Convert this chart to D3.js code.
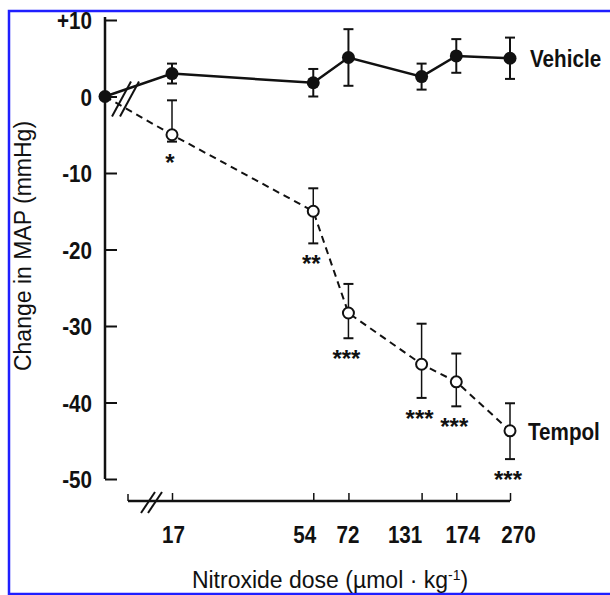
<!DOCTYPE html>
<html>
<head>
<meta charset="utf-8">
<script src="https://cdn.jsdelivr.net/npm/d3@7"></script>
<style>
  body { margin: 0; background: #fff; }
  svg { display: block; }
  text { font-family: "Liberation Sans", Arial, sans-serif; fill: #111; }
  .bold { font-weight: bold; font-size: 24px; }
  .tick text { font-weight: bold; font-size: 24px; }
</style>
</head>
<body>
<div id="chart"></div>
<script>
// doses (umol/kg) on a log axis, plus a baseline point at dose 0
var doses = [17, 54, 72, 131, 174, 270];
var yTicks = [10, 0, -10, -20, -30, -40, -50];
var seriesNames = ['Vehicle', 'Tempol'];

var baseline = 0;
var vehicleMean = [3.0, 1.8, 5.1, 2.6, 5.3, 5.0];
var vehicleErr = [1.3, 1.8, 3.7, 1.7, 2.2, 2.7];

var tempolMean = [-5.0, -15.0, -28.3, -35.0, -37.3, -43.7];
var tempolErrUp = [4.5, 3.0, 3.8, 5.3, 3.7, 3.6];
var tempolErrDown = [0.9, 4.2, 3.3, 4.4, 3.2, 3.7];
var tempolStars = ['*', '**', '***', '***', '***', '***'];

var width = 610, height = 595;
var axisX = 105;
var squeeze = 'scale(0.86,1)';   // the original lettering is condensed
// labels under crowded ticks are nudged apart, as in the original
var labelShift = [1, -9, -1, -17, 6, 8];

var svg = d3.select('#chart').append('svg')
    .attr('width', width)
    .attr('height', height);

// blue frame of the scanned figure
var frame = svg.append('g').attr('stroke', '#1f1fff').attr('stroke-width', 2.5).attr('fill', 'none');
frame.append('path').attr('d', 'M610,11 H9 V594 H610');

var x = d3.scaleLog().domain([17, 270]).range([172, 510]);
var y = d3.scaleLinear().domain([-50, 10]).range([479, 20]);

// y axis
var yAxis = d3.axisLeft(y)
    .tickValues(yTicks)
    .tickSizeInner(-12)
    .tickSizeOuter(0)
    .tickFormat(function(d) { return d > 0 ? '+' + d : String(d); });

var gy = svg.append('g')
    .attr('transform', 'translate(' + axisX + ',0)')
    .call(yAxis);
gy.select('.domain').remove();
gy.selectAll('.tick line').attr('stroke', '#111').attr('stroke-width', 2);
gy.selectAll('.tick text')
    .attr('x', null)
    .attr('dy', '0.36em')
    .attr('transform', 'translate(-13,0) ' + squeeze);
gy.append('line')
    .attr('x1', 0).attr('x2', 0)
    .attr('y1', y(10) - 3).attr('y2', y(-50))
    .attr('stroke', '#111').attr('stroke-width', 2.5);

// x axis
var axisY = 501;
var xAxis = d3.axisBottom(x)
    .tickValues(doses)
    .tickSizeInner(-8)
    .tickSizeOuter(0)
    .tickPadding(25)
    .tickFormat(d3.format('d'));

var gx = svg.append('g')
    .attr('transform', 'translate(0,' + axisY + ')')
    .call(xAxis);
gx.select('.domain').remove();
gx.selectAll('.tick line').attr('stroke', '#111').attr('stroke-width', 1.5);
gx.selectAll('.tick text')
    .attr('transform', function(d, i) { return 'translate(' + labelShift[i] + ',0) ' + squeeze; });
gx.append('line')
    .attr('x1', 128).attr('x2', x(270))
    .attr('y1', 0).attr('y2', 0)
    .attr('stroke', '#111').attr('stroke-width', 2.5);
gx.append('line')
    .attr('x1', 128).attr('x2', 128)
    .attr('y1', 0).attr('y2', -7)
    .attr('stroke', '#111').attr('stroke-width', 1.5);
// axis break
[0, 7].forEach(function(o) {
    gx.append('line')
        .attr('x1', 141 + o).attr('y1', 12)
        .attr('x2', 155 + o).attr('y2', -9)
        .attr('stroke', '#111').attr('stroke-width', 2);
});

// axis titles
svg.append('text')
    .attr('x', 330).attr('y', 588)
    .attr('text-anchor', 'middle')
    .style('font-size', '23px')
    .html('Nitroxide dose (\u00b5mol \u00b7 kg<tspan dy="-8" font-size="14px">-1</tspan><tspan dy="8">)</tspan>');

svg.append('text')
    .attr('transform', 'translate(31,246) rotate(-90)')
    .attr('text-anchor', 'middle')
    .style('font-size', '23px')
    .text('Change in MAP (mmHg)');

// series lines
var vehiclePts = [[axisX, y(baseline)]].concat(doses.map(function(d, i) {
    return [x(d), y(vehicleMean[i])];
}));
var tempolPts = [[axisX, y(baseline)]].concat(doses.map(function(d, i) {
    return [x(d), y(tempolMean[i])];
}));
var line = d3.line();

svg.append('path')
    .attr('d', line(tempolPts))
    .attr('fill', 'none')
    .attr('stroke', '#111')
    .attr('stroke-width', 2)
    .attr('stroke-dasharray', '7,5');

svg.append('path')
    .attr('d', line(vehiclePts))
    .attr('fill', 'none')
    .attr('stroke', '#111')
    .attr('stroke-width', 2.5);

// break marks across the data lines
[0, 8].forEach(function(o) {
    svg.append('line')
        .attr('x1', 112 + o).attr('y1', y(baseline) + 20)
        .attr('x2', 131 + o).attr('y2', y(baseline) - 15)
        .attr('stroke', '#111').attr('stroke-width', 2);
});

// error bars
function errBar(g, cx, top, bottom, sw) {
    g.append('line').attr('x1', cx).attr('x2', cx).attr('y1', top).attr('y2', bottom)
        .attr('stroke', '#111').attr('stroke-width', sw);
    [top, bottom].forEach(function(yy) {
        g.append('line').attr('x1', cx - 5).attr('x2', cx + 5).attr('y1', yy).attr('y2', yy)
            .attr('stroke', '#111').attr('stroke-width', 2);
    });
}

var gErr = svg.append('g');
doses.forEach(function(d, i) {
    errBar(gErr, x(d), y(vehicleMean[i] + vehicleErr[i]), y(vehicleMean[i] - vehicleErr[i]), 2);
    errBar(gErr, x(d), y(tempolMean[i] + tempolErrUp[i]), y(tempolMean[i] - tempolErrDown[i]), 1.5);
});

// markers
svg.selectAll('circle.tempol')
    .data(doses)
    .enter().append('circle')
    .attr('class', 'tempol')
    .attr('cx', function(d) { return x(d); })
    .attr('cy', function(d, i) { return y(tempolMean[i]); })
    .attr('r', 5.5)
    .attr('fill', '#fff')
    .attr('stroke', '#111')
    .attr('stroke-width', 2);

svg.selectAll('circle.vehicle')
    .data(doses)
    .enter().append('circle')
    .attr('class', 'vehicle')
    .attr('cx', function(d) { return x(d); })
    .attr('cy', function(d, i) { return y(vehicleMean[i]); })
    .attr('r', 6.5)
    .attr('fill', '#111');

svg.append('circle')
    .attr('cx', axisX).attr('cy', y(baseline))
    .attr('r', 6.5)
    .attr('fill', '#111');

// significance stars
svg.selectAll('text.star')
    .data(doses)
    .enter().append('text')
    .attr('class', 'star')
    .attr('x', function(d) { return x(d) - 2; })
    .attr('y', function(d, i) { return y(tempolMean[i] - tempolErrDown[i]) + 29; })
    .attr('text-anchor', 'middle')
    .style('font-size', '24px')
    .style('font-weight', 'bold')
    .text(function(d, i) { return tempolStars[i]; });

// series labels
svg.append('text')
    .attr('class', 'bold')
    .attr('transform', 'translate(530,' + (y(vehicleMean[5]) + 9) + ') ' + squeeze)
    .text(seriesNames[0]);
svg.append('text')
    .attr('class', 'bold')
    .attr('transform', 'translate(528,' + (y(tempolMean[5]) + 9) + ') ' + squeeze)
    .text(seriesNames[1]);
</script>
</body>
</html>
